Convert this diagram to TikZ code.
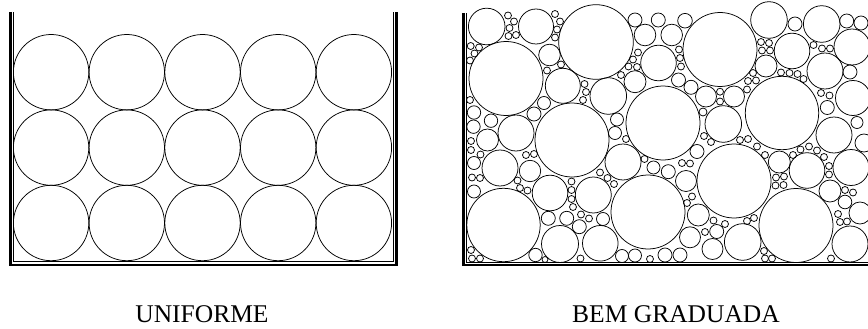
\documentclass[tikz,border=0pt]{standalone}
\usepackage{fontspec}
\setmainfont{Liberation Serif}
\begin{document}
\begin{tikzpicture}[x=1pt,y=-1pt,
  grain/.style={draw=black,line width=0.75pt},
  wallthick/.style={draw=black,line width=2.6pt},
  wallthin/.style={draw=black,line width=0.6pt},
  lbl/.style={font=\fontsize{25.5}{30}\selectfont,anchor=base,inner sep=0pt}]
\useasboundingbox (0,0) rectangle (868,329);
% ---------- left container (uniform) ----------
\draw[wallthick] (10.2,12) -- (10.2,264.8) -- (396.2,264.8) -- (396.2,12);
\draw[wallthin] (12.8,12) -- (12.8,261) -- (393,261) -- (393,12);
\foreach \gx in {51.1,126.8,202.5,278.2,353.9}
  \foreach \gy in {72.2,147.6,223}
    \draw[grain] (\gx,\gy) circle[radius=37.7pt];
% ---------- right container (well graded) ----------
\draw[wallthick] (463.3,13.3) -- (463.3,265) -- (870,265);
\draw[wallthin] (466,13.3) -- (466,262.4) -- (870,262.4);
% big
\foreach \gx/\gy/\gr in {596/42/37.3, 720/49.5/37, 506/78.5/37, 663/123/37, 782/113/36.7,
  572/140/37, 734/181/37, 648/212/37, 503.5/225/36.7, 796/225.5/37}
  \draw[grain] (\gx,\gy) circle[radius=\gr pt];
% medium
\foreach \gx/\gy/\gr in {486.7/26.5/18.3, 536/26.5/17.5, 769/20/18.3, 821.7/24/18.3,
  658.5/63/17.8, 792/51/17.8, 852/47/18, 825/71/18, 562.8/85.8/17.5, 608.3/96/18.3,
  723.3/124/18.3, 853/98/17.5, 516/133/18, 834/135/18, 500/168/18, 623/162/18,
  807/170.5/17.8, 851/167.5/18, 550/193/17.8, 593.3/195/18, 560/244/18.5,
  600.3/243.3/17.8, 742.7/242/18.3, 850/244/18}
  \draw[grain] (\gx,\gy) circle[radius=\gr pt];
% small
\foreach \gx/\gy/\gr in {549.5/55/10.8, 645/35/10.8, 671.7/35/10.8, 635/81.7/11,
  766/66/11, 706/96.5/10.5, 734/96.5/10.5, 487.5/140/11, 530/171/10.7,
  779.3/162/11, 830/191/11, 686/181/10.5, 698.3/215/11, 712.5/249/10.5,
  690/237.3/10.5, 860/213/11, 864/143/9}
  \draw[grain] (\gx,\gy) circle[radius=\gr pt];
% fine
\foreach \gx/\gy/\gr in {635/20/7, 658.3/20/7, 685/20.7/7.3, 678.5/80/7, 691/87.3/7,
  795/24/7, 846.7/21/7, 861/23/7, 850/72/7, 827.3/107.5/7, 857/122.5/6,
  474/112.5/6.7, 491/120.7/6.7, 473.5/126.7/6.7, 534/114/7, 544/103/6.5,
  617/119.5/6.5, 615/133/6.5, 668.3/171.7/7, 653.5/167.5/6.5, 697/151.5/7,
  716.7/231.5/7, 622/256/6.5, 635/255.5/6.5, 665/255/7, 680/255/7,
  535.5/255/6.7, 548.3/218.3/7, 566.7/218.3/7, 579.3/226.7/7, 603/219/6.5,
  474/163/6.5, 474/191.5/6.5, 845/202/6.8, 703/112/4, 545/259.5/3}
  \draw[grain] (\gx,\gy) circle[radius=\gr pt];
% tiny
\foreach \gx/\gy in {508/15.5, 514/21.5, 509.5/28, 508.5/36, 516/35,
  555/14, 560/21.5, 557/29.5, 555/37.5,
  470.7/46, 479/47.5, 474.5/53.5, 470/60.5,
  561/64.5, 547/70.5, 584.5/84, 586/92, 583/100, 470/100,
  679/49.5, 680/58, 681/66.5,
  638/52.5, 633/59.5, 637/67, 628.5/66.5, 621/75,
  761/42, 769/43, 762/50.5, 770/50.5,
  813.5/45, 822/48.5, 830/48.5,
  781/72.5, 789.5/73, 797.5/74, 803.5/79,
  753/73, 748/81, 756/80.5, 747/89.5,
  821/93, 829.5/95.5, 720/91.7, 720/101.5,
  471/141, 471/150, 480.5/154.5, 472/177.5, 480/178,
  471/250, 472/258.5, 480/258.5,
  526/155, 534/154, 520/188, 527.5/190.5, 517.5/180.5,
  571.5/181.5, 571.5/190, 571.5/199, 573/207, 581/214.5, 589/218.5,
  580.5/258.5, 626/139, 644.5/159, 682/163, 690/163.5,
  692/196.5, 687/203, 713.5/220.5, 725/224, 705/232,
  748/139, 757/146.5, 765/155, 740/140, 704/136, 711/142,
  793/155, 800.5/149.5, 809/146.5, 817/150.5, 824/157,
  829/166, 829/174.5, 776/177.5, 784/176.5, 775.5/185.5, 783.5/185,
  845/190, 853/192.5, 838/214, 840/222, 847/221.5,
  754/218, 747/221, 765/258.5, 772/258.5, 764/251, 831/258.5,
  600/172.5, 607.5/178, 614/184, 650/259}
  \draw[grain] (\gx,\gy) circle[radius=3.5pt];
% ---------- labels ----------
\node[lbl] (uniforme) at (202,322) {UNIFORME};
\node[lbl] (graduada) at (676,322) {BEM GRADUADA};
\end{tikzpicture}
\end{document}
